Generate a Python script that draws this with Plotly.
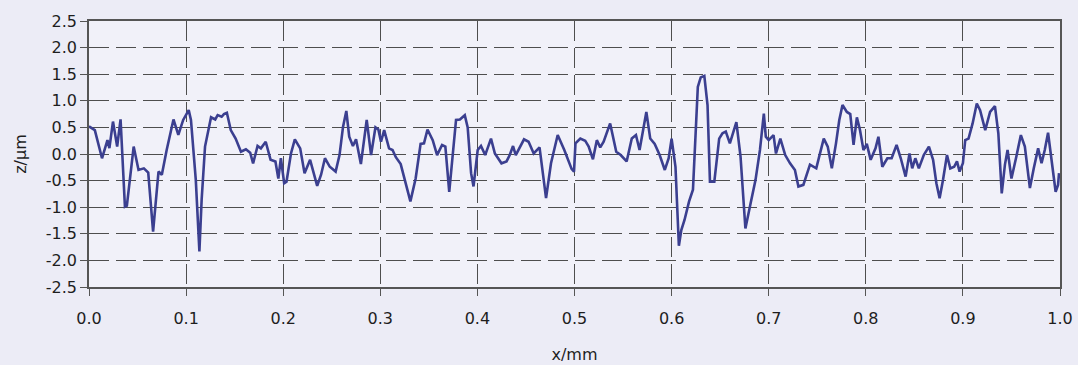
import plotly.graph_objects as go

# Surface profile: x position (mm) and height z (µm)
x_mm = [
    0.000, 0.006, 0.0134, 0.019, 0.021, 0.0247, 0.029, 0.0325, 0.037, 0.039,
    0.046, 0.051, 0.0565, 0.061, 0.066, 0.0716, 0.075, 0.080, 0.087, 0.092,
    0.097, 0.100, 0.1027, 0.105, 0.110, 0.1137, 0.116, 0.1195, 0.1257, 0.130,
    0.1325, 0.1366, 0.139, 0.142, 0.146, 0.151, 0.1565, 0.1616, 0.166, 0.169,
    0.1736, 0.177, 0.182, 0.187, 0.192, 0.195, 0.1976, 0.201, 0.2034, 0.208,
    0.212, 0.2175, 0.222, 0.2277, 0.235, 0.239, 0.243, 0.248, 0.254, 0.258,
    0.2616, 0.265, 0.268, 0.2718, 0.275, 0.280, 0.2827, 0.286, 0.2905, 0.295,
    0.298, 0.3007, 0.304, 0.309, 0.3126, 0.316, 0.321, 0.326, 0.331, 0.3364,
    0.3415, 0.345, 0.3486, 0.354, 0.3585, 0.3636, 0.367, 0.371, 0.3745, 0.378,
    0.382, 0.387, 0.390, 0.3935, 0.396, 0.4003, 0.4037, 0.408, 0.414, 0.418,
    0.4248, 0.430, 0.4333, 0.4367, 0.4395, 0.443, 0.448, 0.4527, 0.458, 0.464,
    0.4707, 0.4758, 0.4827, 0.4895, 0.494, 0.497, 0.4995, 0.501, 0.506, 0.511,
    0.5146, 0.519, 0.523, 0.5265, 0.530, 0.5367, 0.543, 0.5476, 0.5537, 0.559,
    0.5633, 0.567, 0.574, 0.578, 0.5826, 0.5877, 0.593, 0.597, 0.600, 0.604,
    0.6075, 0.610, 0.6133, 0.618, 0.622, 0.627, 0.630, 0.6337, 0.637, 0.6395,
    0.644, 0.649, 0.6524, 0.6558, 0.660, 0.663, 0.6667, 0.671, 0.676, 0.681,
    0.6864, 0.691, 0.695, 0.697, 0.700, 0.705, 0.7075, 0.712, 0.717, 0.722,
    0.727, 0.7306, 0.7357, 0.7425, 0.749, 0.752, 0.7567, 0.7608, 0.765, 0.7693,
    0.7727, 0.776, 0.7805, 0.784, 0.7874, 0.7908, 0.794, 0.7976, 0.801, 0.805,
    0.810, 0.813, 0.817, 0.8222, 0.8266, 0.8317, 0.836, 0.841, 0.845, 0.8478,
    0.851, 0.8546, 0.8597, 0.865, 0.8693, 0.8727, 0.876, 0.8795, 0.8836, 0.887,
    0.891, 0.8939, 0.8966, 0.900, 0.9024, 0.9058, 0.910, 0.9143, 0.9177, 0.923,
    0.928, 0.933, 0.9365, 0.940, 0.9433, 0.946, 0.950, 0.955, 0.9597, 0.9638,
    0.969, 0.973, 0.9775, 0.981, 0.9843, 0.9877, 0.992, 0.9955, 0.998, 0.999,
]
z_um = [
    0.52, 0.45, -0.08, 0.26, 0.11, 0.61, 0.14, 0.65, -0.99, -0.97,
    0.14, -0.30, -0.27, -0.35, -1.46, -0.33, -0.39, 0.075, 0.65, 0.36,
    0.64, 0.73, 0.825, 0.64, -0.49, -1.83, -0.86, 0.14, 0.69, 0.65,
    0.73, 0.70, 0.75, 0.775, 0.45, 0.29, 0.044, 0.09, 0.025, -0.175,
    0.15, 0.106, 0.23, -0.11, -0.14, -0.46, -0.08, -0.55, -0.52, 0.01,
    0.275, 0.106, -0.36, -0.11, -0.60, -0.39, -0.08, -0.24, -0.33, -0.02,
    0.51, 0.81, 0.325, 0.15, 0.275, -0.19, 0.17, 0.64, -0.02, 0.50,
    0.46, 0.23, 0.45, 0.106, 0.075, -0.06, -0.19, -0.55, -0.89, -0.46,
    0.19, 0.20, 0.46, 0.26, -0.02, 0.17, 0.14, -0.71, 0.01, 0.64,
    0.65, 0.73, 0.50, -0.36, -0.61, 0.075, 0.15, -0.02, 0.29, 0.01,
    -0.175, -0.14, -0.02, 0.15, -0.02, 0.106, 0.275, 0.23, 0.01, 0.125,
    -0.83, -0.175, 0.356, 0.075, -0.15, -0.28, -0.33, 0.20, 0.29, 0.25,
    0.14, -0.10, 0.26, 0.125, 0.23, 0.575, 0.044, -0.02, -0.14, 0.29,
    0.356, 0.075, 0.79, 0.29, 0.19, -0.02, -0.30, -0.08, 0.29, -0.24,
    -1.725, -1.43, -1.24, -0.89, -0.67, 1.26, 1.44, 1.47, 0.92, -0.52,
    -0.52, 0.29, 0.39, 0.42, 0.20, 0.39, 0.60, -0.05, -1.40, -0.96,
    -0.49, 0.075, 0.76, 0.325, 0.26, 0.356, 0.01, 0.29, -0.02, -0.175,
    -0.30, -0.61, -0.58, -0.20, -0.27, -0.05, 0.29, 0.14, -0.27, 0.20,
    0.64, 0.92, 0.79, 0.75, 0.17, 0.69, 0.45, 0.075, 0.19, -0.11,
    0.106, 0.325, -0.24, -0.08, -0.08, 0.17, -0.08, -0.425, 0.01, -0.27,
    -0.08, -0.27, -0.02, 0.14, -0.11, -0.55, -0.83, -0.49, -0.02, -0.27,
    -0.24, -0.14, -0.33, -0.175, 0.26, 0.29, 0.575, 0.95, 0.825, 0.45,
    0.79, 0.90, 0.39, -0.74, -0.20, 0.075, -0.46, -0.05, 0.356, 0.14,
    -0.64, -0.27, 0.106, -0.175, 0.075, 0.40, -0.20, -0.71, -0.58, -0.36,
]

x_ticks = [0.0, 0.1, 0.2, 0.3, 0.4, 0.5, 0.6, 0.7, 0.8, 0.9, 1.0]
x_tick_labels = ["0.0", "0.1", "0.2", "0.3", "0.4", "0.5", "0.6", "0.7", "0.8", "0.9", "1.0"]
y_ticks = [-2.5, -2.0, -1.5, -1.0, -0.5, 0.0, 0.5, 1.0, 1.5, 2.0, 2.5]
y_tick_labels = ["-2.5", "-2.0", "-1.5", "-1.0", "-0.5", "0.0", "0.5", "1.0", "1.5", "2.0", "2.5"]

fig = go.Figure()
fig.add_trace(go.Scatter(
    x=x_mm, y=z_um, mode="lines",
    line=dict(color="#3b3f90", width=2.6),
    showlegend=False, hoverinfo="skip",
))

font_family = "DejaVu Sans, Liberation Sans, Arial, sans-serif"
fig.update_layout(
    width=1078, height=365,
    margin=dict(l=89, r=18, t=21, b=78),
    paper_bgcolor="#ececf6",
    plot_bgcolor="#f1f1f9",
    font=dict(family=font_family, size=16, color="#1e1e1e"),
)
fig.update_xaxes(
    range=[0, 1.0], tickvals=x_ticks, ticktext=x_tick_labels,
    showgrid=True, gridcolor="#4e4e4e", gridwidth=1.2, griddash="20px,7px",
    showline=True, linecolor="#555555", linewidth=1.5, mirror=True,
    ticks="outside", ticklen=7, tickcolor="#555555",
    ticklabelstandoff=9, automargin=False,
    zeroline=False,
    title=dict(text="x/mm", font=dict(size=16), standoff=22),
    tickfont=dict(size=16),
)
fig.update_yaxes(
    range=[-2.5, 2.5], tickvals=y_ticks, ticktext=y_tick_labels,
    showgrid=True, gridcolor="#4e4e4e", gridwidth=1.2, griddash="20px,7px",
    showline=True, linecolor="#555555", linewidth=1.5, mirror=True,
    ticks="outside", ticklen=7, tickcolor="#555555",
    automargin=False,
    zeroline=False,
    title=dict(text="z/µm", font=dict(size=16), standoff=15),
    tickfont=dict(size=16),
)

fig.write_html(
    "out.html",
    config={"displayModeBar": False},
    post_script="document.body.style.margin='0';document.body.style.background='#ececf6';",
)
